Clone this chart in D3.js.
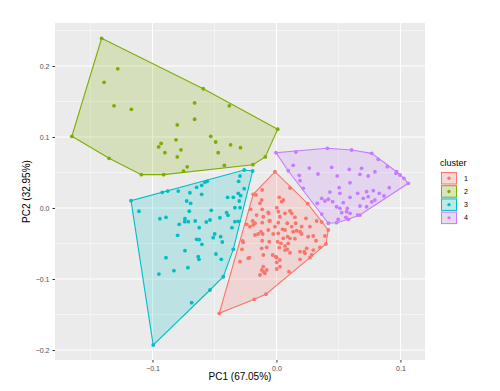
<!DOCTYPE html>
<html><head><meta charset="utf-8">
<script src="https://cdn.jsdelivr.net/npm/d3@7"></script>
<style>body{margin:0;background:#fff}svg{display:block}text{font-family:"Liberation Sans",Arial,sans-serif}</style>
</head><body><svg id="c" width="500" height="391"></svg>
<script>
const clusters = ["1","2","3","4"];
const colors = ["#F8766D","#7CAE00","#00BFC4","#C77CFF"];
const xTicks = [-0.1, 0.0, 0.1];
const yTicks = [-0.2, -0.1, 0.0, 0.1, 0.2];
const xTitle = "PC1 (67.05%)";
const yTitle = "PC2 (32.95%)";
const legendTitle = "cluster";

const cluster1 = [[-0.0012,0.0511],[0.0109,0.0282],[0.0252,0.0061],[0.0418,-0.0310],[0.0399,-0.0507],[0.0101,-0.0897],[-0.0085,-0.1215],[-0.0179,-0.1286],[-0.0461,-0.1483],
[-0.0115,0.0254],[-0.0187,0.0193],[0.0023,0.0151],[-0.0119,0.0113],[0.0042,0.0089],[-0.0208,-0.0018],[-0.0115,-0.0018],[0.0002,0.0004],[0.0015,-0.0052],[0.0109,-0.0042],
[-0.0063,-0.0075],[-0.0192,-0.0183],[-0.0115,-0.0207],[-0.0058,-0.0183],[0.0028,-0.0123],[0.0069,-0.0075],[0.0149,-0.0131],[0.0238,-0.0145],[0.0324,-0.0183],[0.0365,-0.0197],
[0.0087,-0.0215],[0.0155,-0.0215],[-0.0187,-0.0239],[-0.0173,-0.0215],[0.0203,-0.0263],[0.0270,-0.0263],[0.0123,-0.0263],[0.0050,-0.0300],[-0.0125,-0.0334],[0.0163,-0.0320],
[0.0190,-0.0334],[-0.0147,-0.0366],[-0.0111,-0.0366],[-0.0026,-0.0366],[0.0090,-0.0404],[0.0055,-0.0427],[0.0109,-0.0427],[0.0149,-0.0432],[0.0297,-0.0394],[0.0319,-0.0461],
[-0.0273,-0.0465],[-0.0115,-0.0461],[-0.0058,-0.0475],[0.0010,-0.0475],[0.0036,-0.0497],[0.0069,-0.0535],[-0.0119,-0.0568],[-0.0079,-0.0554],[0.0023,-0.0559],[0.0087,-0.0582],
[-0.0278,-0.0582],[0.0351,-0.0554],[0.0244,-0.0568],[0.0190,-0.0615],[0.0224,-0.0615],[0.0109,-0.0630],[-0.0031,-0.0662],[-0.0006,-0.0686],[0.0284,-0.0662],[0.0190,-0.0723],
[-0.0219,-0.0700],[0.0028,-0.0732],[-0.0294,-0.0756],[-0.0106,-0.0827],[-0.0119,-0.0873],[-0.0079,-0.0873],[-0.0093,-0.0920],[-0.0133,-0.0944],[0.0028,-0.0827],
[-0.0165,0.0183],[0.0055,0.0113],[-0.0133,0.0066],[-0.0066,-0.0061],[0.0123,-0.0075],[-0.0160,-0.0099],[-0.0106,-0.0123],[-0.0052,-0.0179],[0.0015,-0.0207],[-0.0240,-0.0230],
[-0.0214,-0.0263],[-0.0012,-0.0263],[-0.0066,-0.0310],[0.0069,-0.0310],[0.0135,-0.0334],[-0.0173,-0.0380],[0.0015,-0.0356],[0.0203,-0.0366],[0.0391,-0.0394],[0.0256,-0.0404],
[-0.0268,-0.0483],[0.0095,-0.0497],[0.0069,-0.0592],[0.0297,-0.0592],[0.0230,-0.0638],[-0.0106,-0.0662],[0.0002,-0.0700],[0.0270,-0.0700],[-0.0227,-0.0708],[0.0002,-0.0765],
[0.0002,-0.0859],[-0.0106,-0.0897]];

const cluster2 = [[-0.141,0.239],[-0.165,0.101],[-0.135,0.070],[-0.109,0.047],[-0.091,0.047],[-0.075,0.052],[-0.019,0.061],[-0.009,0.072],[0.001,0.111],[-0.059,0.168],
[-0.038,0.144],[-0.128,0.196],[-0.139,0.177],[-0.131,0.144],[-0.117,0.139],[-0.066,0.148],[-0.066,0.125],[-0.080,0.117],[-0.081,0.096],[-0.093,0.091],[-0.095,0.086],
[-0.090,0.078],[-0.077,0.082],[-0.080,0.072],[-0.053,0.101],[-0.049,0.093],[-0.037,0.089],[-0.029,0.085],[-0.047,0.078],[-0.042,0.060],[-0.072,0.058]];

const cluster3 = [[-0.1173,0.0103],[-0.0994,-0.1930],[-0.0536,-0.1155],[-0.0429,-0.0968],[-0.0192,0.0521],[-0.0260,0.0535],[-0.1109,-0.0046],[-0.0921,0.0221],[-0.0877,0.0239],
[-0.0792,0.0239],[-0.0698,0.0215],[-0.0644,0.0292],[-0.0603,0.0320],[-0.0577,0.0362],[-0.0558,0.0376],[-0.0603,0.0193],[-0.0294,0.0451],[-0.0305,0.0376],[-0.0260,0.0272],
[-0.0308,0.0207],[-0.0289,0.0173],[-0.0348,0.0151],[-0.0394,0.0151],[-0.0300,0.0099],[-0.0724,0.0099],[-0.0692,0.0066],[-0.0335,0.0004],[-0.0294,0.0004],[-0.0703,-0.0046],
[-0.0526,-0.0032],[-0.0402,-0.0066],[-0.0391,-0.0103],[-0.0940,-0.0151],[-0.0891,-0.0131],[-0.0738,-0.0151],[-0.0740,-0.0193],[-0.0711,-0.0193],[-0.0655,-0.0183],[-0.0566,-0.0197],
[-0.0536,-0.0169],[-0.0456,-0.0137],[-0.0335,-0.0193],[-0.0308,-0.0187],[-0.0784,-0.0230],[-0.0623,-0.0277],[-0.0359,-0.0277],[-0.0797,-0.0385],[-0.0498,-0.0366],[-0.0510,-0.0418],
[-0.0450,-0.0404],[-0.0644,-0.0441],[-0.0623,-0.0446],[-0.0601,-0.0511],[-0.0437,-0.0479],[-0.0348,-0.0582],[-0.0738,-0.0601],[-0.0488,-0.0648],[-0.0891,-0.0700],[-0.0631,-0.0686],
[-0.0625,-0.0723],[-0.0445,-0.0723],[-0.0827,-0.0883],[-0.0714,-0.0841],[-0.0948,-0.0930],[-0.0684,-0.1334]];

const cluster4 = [[-0.0004,0.0779],[0.0410,0.0841],[0.0606,0.0817],[0.0768,0.0770],[0.1063,0.0348],[0.0418,-0.0215],[0.0365,-0.0085],[0.0157,0.0789],[0.0821,0.0686],
[0.0894,0.0582],[0.0485,-0.0207],[0.0655,-0.0099],[0.0135,0.0601],[0.0265,0.0563],[0.0445,0.0573],[0.0587,0.0545],[0.0687,0.0559],[0.0794,0.0511],[0.0673,0.0475],
[0.0095,0.0525],[0.0184,0.0461],[0.0335,0.0479],[0.0490,0.0451],[0.0740,0.0451],[0.0964,0.0489],[0.0190,0.0385],[0.0593,0.0356],[0.0216,0.0277],[0.0506,0.0286],
[0.0910,0.0286],[0.0431,0.0225],[0.0512,0.0207],[0.0655,0.0207],[0.0727,0.0230],[0.0781,0.0244],[0.0829,0.0207],[0.0867,0.0169],[0.0365,0.0137],[0.0418,0.0123],
[0.0593,0.0151],[0.0700,0.0137],[0.0740,0.0159],[0.0794,0.0113],[0.0768,0.0085],[0.0329,0.0066],[0.0391,0.0099],[0.0453,0.0089],[0.0539,0.0075],[0.0673,0.0028],
[0.0727,0.0018],[0.0485,0.0018],[0.0512,-0.0004],[0.0571,-0.0004],[0.0566,-0.0052],[0.0526,-0.0066],[0.0593,-0.0075],[0.0673,-0.0099],[0.0560,-0.0131],[0.0579,-0.0159],
[0.0498,-0.0159],[0.0969,0.0511],[0.0996,0.0465],[0.1028,0.0418]];

const series = [cluster1, cluster2, cluster3, cluster4];

const svg = d3.select("#c");
const P = {l:55, r:425, t:23, b:360};
const x = d3.scaleLinear().domain([-0.1786, 0.1198]).range([P.l, P.r]);
const y = d3.scaleLinear().domain([-0.2141, 0.2606]).range([P.b, P.t]);

svg.append("rect").attr("x",P.l).attr("y",P.t).attr("width",P.r-P.l).attr("height",P.b-P.t).attr("fill","#EBEBEB");
const g = svg.append("g");
const xMinor = [-0.15,-0.05,0.05].filter(v=>v>=x.domain()[0]&&v<=x.domain()[1]);
const yMinor = [-0.15,-0.05,0.05,0.15,0.25].filter(v=>v>=y.domain()[0]&&v<=y.domain()[1]);
xMinor.forEach(v=>g.append("line").attr("x1",x(v)).attr("x2",x(v)).attr("y1",P.t).attr("y2",P.b).attr("stroke","#fff").attr("stroke-width",0.5));
yMinor.forEach(v=>g.append("line").attr("y1",y(v)).attr("y2",y(v)).attr("x1",P.l).attr("x2",P.r).attr("stroke","#fff").attr("stroke-width",0.5));
xTicks.forEach(v=>g.append("line").attr("x1",x(v)).attr("x2",x(v)).attr("y1",P.t).attr("y2",P.b).attr("stroke","#fff").attr("stroke-width",1));
yTicks.forEach(v=>g.append("line").attr("y1",y(v)).attr("y2",y(v)).attr("x1",P.l).attr("x2",P.r).attr("stroke","#fff").attr("stroke-width",1));

series.forEach((pts,i)=>{
  const sp = pts.map(d=>[x(d[0]), y(d[1])]);
  const hull = d3.polygonHull(sp);
  svg.append("path").attr("d","M"+hull.map(p=>p.join(",")).join("L")+"Z")
    .attr("fill",colors[i]).attr("fill-opacity",0.2).attr("stroke",colors[i]).attr("stroke-width",1.1);
});
series.forEach((pts,i)=>{
  svg.append("g").selectAll("circle").data(pts).join("circle")
    .attr("cx",d=>x(d[0])).attr("cy",d=>y(d[1])).attr("r",1.9).attr("fill",colors[i]);
});

const fmt = d3.format(".1f");
const xAxis = d3.axisBottom(x).tickValues(xTicks).tickFormat(fmt).tickSize(2.5).tickPadding(4);
const yAxis = d3.axisLeft(y).tickValues(yTicks).tickFormat(fmt).tickSize(2.5).tickPadding(3);
const ax = svg.append("g").attr("transform",`translate(0,${P.b})`).call(xAxis);
const ay = svg.append("g").attr("transform",`translate(${P.l},0)`).call(yAxis);
[ax,ay].forEach(a=>{a.select(".domain").remove();a.selectAll("line").attr("stroke","#333");
  a.selectAll("text").attr("fill","#4D4D4D").style("font-size","7px");});

svg.append("text").attr("x",(P.l+P.r)/2).attr("y",380).attr("text-anchor","middle").style("font-size","10px").attr("fill","#000").text(xTitle);
svg.append("text").attr("transform",`translate(30,${(P.t+P.b)/2}) rotate(-90)`).attr("text-anchor","middle").style("font-size","10px").attr("fill","#000").text(yTitle);

const lg = svg.append("g");
lg.append("text").attr("x",440).attr("y",166).style("font-size","9px").text(legendTitle);
clusters.forEach((c,i)=>{
  const ky = 172 + i*13.2;
  lg.append("rect").attr("x",441).attr("y",ky).attr("width",16).attr("height",12.5).attr("fill","#F2F2F2");
  lg.append("rect").attr("x",441.5).attr("y",ky+0.5).attr("width",15).attr("height",11.5)
    .attr("fill",colors[i]).attr("fill-opacity",0.2).attr("stroke",colors[i]).attr("stroke-width",1);
  lg.append("circle").attr("cx",449).attr("cy",ky+6.25).attr("r",1.7).attr("fill",colors[i]);
  lg.append("text").attr("x",464).attr("y",ky+6.25).attr("dy","0.35em").style("font-size","7px").text(c);
});
</script></body></html>
